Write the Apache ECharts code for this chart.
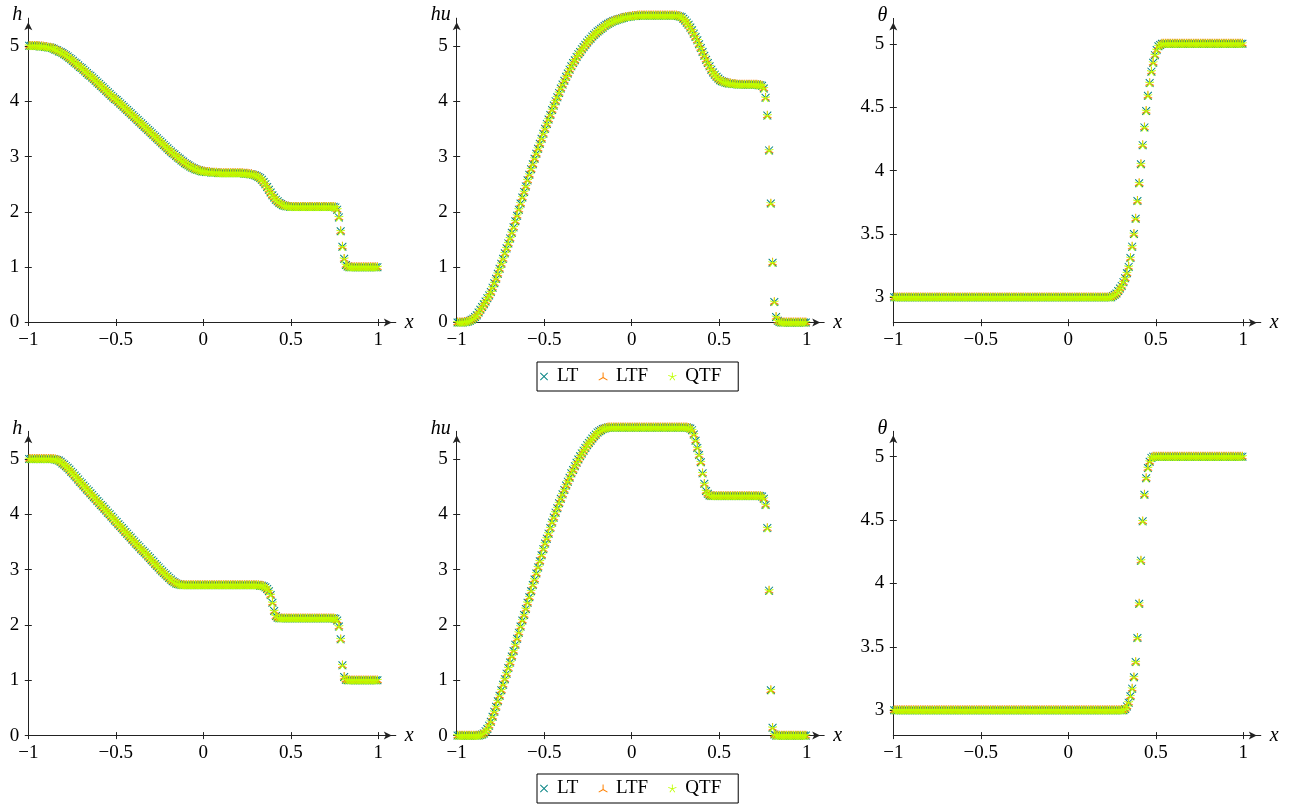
<!DOCTYPE html>
<html>
<head>
<meta charset="utf-8">
<script src="https://cdn.jsdelivr.net/npm/echarts@6/dist/echarts.min.js"></script>
<style>
  html, body { margin: 0; padding: 0; background: #fff; }
  #chart { width: 1291px; height: 806px; }
</style>
</head>
<body>
<div id="chart"></div>
<script>
// cell centres, 200 cells on [-1, 1]
const xCells = [
  -0.995, -0.985, -0.975, -0.965, -0.955, -0.945, -0.935, -0.925, -0.915, -0.905,
  -0.895, -0.885, -0.875, -0.865, -0.855, -0.845, -0.835, -0.825, -0.815, -0.805,
  -0.795, -0.785, -0.775, -0.765, -0.755, -0.745, -0.735, -0.725, -0.715, -0.705,
  -0.695, -0.685, -0.675, -0.665, -0.655, -0.645, -0.635, -0.625, -0.615, -0.605,
  -0.595, -0.585, -0.575, -0.565, -0.555, -0.545, -0.535, -0.525, -0.515, -0.505,
  -0.495, -0.485, -0.475, -0.465, -0.455, -0.445, -0.435, -0.425, -0.415, -0.405,
  -0.395, -0.385, -0.375, -0.365, -0.355, -0.345, -0.335, -0.325, -0.315, -0.305,
  -0.295, -0.285, -0.275, -0.265, -0.255, -0.245, -0.235, -0.225, -0.215, -0.205,
  -0.195, -0.185, -0.175, -0.165, -0.155, -0.145, -0.135, -0.125, -0.115, -0.105,
  -0.095, -0.085, -0.075, -0.065, -0.055, -0.045, -0.035, -0.025, -0.015, -0.005,
  0.005, 0.015, 0.025, 0.035, 0.045, 0.055, 0.065, 0.075, 0.085, 0.095,
  0.105, 0.115, 0.125, 0.135, 0.145, 0.155, 0.165, 0.175, 0.185, 0.195,
  0.205, 0.215, 0.225, 0.235, 0.245, 0.255, 0.265, 0.275, 0.285, 0.295,
  0.305, 0.315, 0.325, 0.335, 0.345, 0.355, 0.365, 0.375, 0.385, 0.395,
  0.405, 0.415, 0.425, 0.435, 0.445, 0.455, 0.465, 0.475, 0.485, 0.495,
  0.505, 0.515, 0.525, 0.535, 0.545, 0.555, 0.565, 0.575, 0.585, 0.595,
  0.605, 0.615, 0.625, 0.635, 0.645, 0.655, 0.665, 0.675, 0.685, 0.695,
  0.705, 0.715, 0.725, 0.735, 0.745, 0.755, 0.765, 0.775, 0.785, 0.795,
  0.805, 0.815, 0.825, 0.835, 0.845, 0.855, 0.865, 0.875, 0.885, 0.895,
  0.905, 0.915, 0.925, 0.935, 0.945, 0.955, 0.965, 0.975, 0.985, 0.995
]

// top row
const hTop = [
  5.00, 5.00, 5.00, 5.00, 5.00, 5.00, 4.99, 4.99, 4.99, 4.98,
  4.98, 4.97, 4.97, 4.96, 4.95, 4.93, 4.92, 4.90, 4.89, 4.87,
  4.85, 4.83, 4.81, 4.78, 4.76, 4.73, 4.70, 4.68, 4.65, 4.62,
  4.60, 4.57, 4.54, 4.51, 4.48, 4.46, 4.43, 4.40, 4.37, 4.34,
  4.31, 4.28, 4.25, 4.22, 4.19, 4.16, 4.13, 4.10, 4.07, 4.04,
  4.02, 3.99, 3.96, 3.93, 3.90, 3.87, 3.84, 3.81, 3.78, 3.75,
  3.72, 3.69, 3.66, 3.63, 3.60, 3.57, 3.54, 3.51, 3.48, 3.45,
  3.42, 3.39, 3.36, 3.33, 3.30, 3.27, 3.24, 3.21, 3.18, 3.15,
  3.12, 3.09, 3.06, 3.04, 3.01, 2.98, 2.96, 2.93, 2.91, 2.88,
  2.86, 2.84, 2.82, 2.80, 2.79, 2.77, 2.76, 2.75, 2.74, 2.73,
  2.73, 2.72, 2.72, 2.72, 2.71, 2.71, 2.71, 2.71, 2.70, 2.70,
  2.70, 2.70, 2.70, 2.70, 2.70, 2.70, 2.70, 2.70, 2.70, 2.70,
  2.70, 2.70, 2.70, 2.69, 2.69, 2.69, 2.68, 2.68, 2.67, 2.66,
  2.65, 2.63, 2.61, 2.58, 2.54, 2.50, 2.45, 2.40, 2.35, 2.30,
  2.26, 2.22, 2.19, 2.16, 2.14, 2.12, 2.11, 2.10, 2.10, 2.09,
  2.09, 2.09, 2.09, 2.09, 2.09, 2.09, 2.09, 2.09, 2.09, 2.09,
  2.09, 2.09, 2.09, 2.09, 2.09, 2.09, 2.09, 2.09, 2.09, 2.09,
  2.09, 2.09, 2.09, 2.09, 2.09, 2.08, 2.04, 1.90, 1.65, 1.37,
  1.15, 1.04, 1.01, 1.00, 1.00, 1.00, 1.00, 1.00, 1.00, 1.00,
  1.00, 1.00, 1.00, 1.00, 1.00, 1.00, 1.00, 1.00, 1.00, 1.00
]
const huTop = [
  0.00, 0.00, 0.00, 0.00, 0.01, 0.01, 0.02, 0.03, 0.05, 0.07,
  0.10, 0.13, 0.18, 0.23, 0.28, 0.33, 0.38, 0.44, 0.49, 0.55,
  0.63, 0.71, 0.79, 0.88, 0.97, 1.06, 1.15, 1.25, 1.34, 1.43,
  1.52, 1.62, 1.72, 1.83, 1.93, 2.04, 2.15, 2.26, 2.36, 2.46,
  2.57, 2.67, 2.77, 2.86, 2.96, 3.05, 3.14, 3.23, 3.32, 3.41,
  3.50, 3.59, 3.67, 3.75, 3.84, 3.92, 4.00, 4.07, 4.15, 4.23,
  4.30, 4.37, 4.44, 4.50, 4.57, 4.63, 4.69, 4.74, 4.80, 4.85,
  4.89, 4.94, 4.98, 5.02, 5.06, 5.10, 5.13, 5.17, 5.20, 5.23,
  5.26, 5.28, 5.31, 5.33, 5.36, 5.38, 5.40, 5.42, 5.43, 5.45,
  5.46, 5.47, 5.48, 5.49, 5.50, 5.51, 5.52, 5.52, 5.53, 5.53,
  5.54, 5.54, 5.54, 5.55, 5.55, 5.55, 5.55, 5.55, 5.55, 5.55,
  5.55, 5.55, 5.55, 5.55, 5.55, 5.55, 5.55, 5.55, 5.55, 5.55,
  5.55, 5.55, 5.55, 5.55, 5.55, 5.55, 5.54, 5.53, 5.52, 5.49,
  5.46, 5.42, 5.38, 5.33, 5.28, 5.22, 5.16, 5.10, 5.03, 4.96,
  4.89, 4.82, 4.75, 4.69, 4.63, 4.57, 4.52, 4.48, 4.44, 4.41,
  4.38, 4.36, 4.35, 4.34, 4.33, 4.32, 4.32, 4.31, 4.31, 4.31,
  4.30, 4.30, 4.30, 4.30, 4.30, 4.30, 4.30, 4.30, 4.30, 4.30,
  4.30, 4.30, 4.29, 4.29, 4.28, 4.23, 4.06, 3.74, 3.11, 2.15,
  1.08, 0.37, 0.10, 0.03, 0.01, 0.00, 0.00, 0.00, 0.00, 0.00,
  0.00, 0.00, 0.00, 0.00, 0.00, 0.00, 0.00, 0.00, 0.00, 0.00
]
const thetaTop = [
  3, 3, 3, 3, 3, 3, 3, 3, 3, 3,
  3, 3, 3, 3, 3, 3, 3, 3, 3, 3,
  3, 3, 3, 3, 3, 3, 3, 3, 3, 3,
  3, 3, 3, 3, 3, 3, 3, 3, 3, 3,
  3, 3, 3, 3, 3, 3, 3, 3, 3, 3,
  3, 3, 3, 3, 3, 3, 3, 3, 3, 3,
  3, 3, 3, 3, 3, 3, 3, 3, 3, 3,
  3, 3, 3, 3, 3, 3, 3, 3, 3, 3,
  3, 3, 3, 3, 3, 3, 3, 3, 3, 3,
  3, 3, 3, 3, 3, 3, 3, 3, 3, 3,
  3, 3, 3, 3, 3, 3, 3, 3, 3, 3,
  3, 3, 3, 3, 3, 3, 3, 3, 3, 3,
  3.00, 3.00, 3.00, 3.00, 3.00, 3.01, 3.02, 3.03, 3.05, 3.07,
  3.09, 3.12, 3.15, 3.19, 3.24, 3.31, 3.40, 3.50, 3.62, 3.76,
  3.90, 4.05, 4.20, 4.34, 4.47, 4.59, 4.69, 4.78, 4.85, 4.91,
  4.95, 4.98, 4.99, 5.00, 5.00, 5.00, 5.00, 5.00, 5.00, 5.00,
  5, 5, 5, 5, 5, 5, 5, 5, 5, 5,
  5, 5, 5, 5, 5, 5, 5, 5, 5, 5,
  5, 5, 5, 5, 5, 5, 5, 5, 5, 5,
  5, 5, 5, 5, 5, 5, 5, 5, 5, 5
]

// bottom row
const hBot = [
  5.00, 5.00, 5.00, 5.00, 5.00, 5.00, 5.00, 5.00, 5.00, 5.00,
  5.00, 5.00, 5.00, 5.00, 5.00, 4.99, 4.98, 4.97, 4.95, 4.92,
  4.90, 4.87, 4.84, 4.81, 4.77, 4.74, 4.70, 4.67, 4.63, 4.59,
  4.56, 4.52, 4.49, 4.45, 4.42, 4.38, 4.35, 4.31, 4.28, 4.24,
  4.21, 4.17, 4.14, 4.10, 4.07, 4.03, 4.00, 3.96, 3.93, 3.89,
  3.86, 3.82, 3.79, 3.75, 3.72, 3.68, 3.65, 3.61, 3.58, 3.54,
  3.51, 3.47, 3.44, 3.41, 3.37, 3.34, 3.31, 3.28, 3.24, 3.21,
  3.17, 3.14, 3.10, 3.07, 3.04, 3.00, 2.97, 2.94, 2.91, 2.88,
  2.85, 2.82, 2.79, 2.77, 2.75, 2.74, 2.73, 2.72, 2.72, 2.72,
  2.72, 2.72, 2.72, 2.72, 2.72, 2.72, 2.72, 2.72, 2.72, 2.72,
  2.72, 2.72, 2.72, 2.72, 2.72, 2.72, 2.72, 2.72, 2.72, 2.72,
  2.72, 2.72, 2.72, 2.72, 2.72, 2.72, 2.72, 2.72, 2.72, 2.72,
  2.72, 2.72, 2.72, 2.72, 2.72, 2.72, 2.72, 2.72, 2.72, 2.72,
  2.72, 2.72, 2.71, 2.71, 2.70, 2.68, 2.65, 2.61, 2.54, 2.40,
  2.25, 2.16, 2.13, 2.12, 2.12, 2.12, 2.12, 2.12, 2.12, 2.12,
  2.12, 2.12, 2.12, 2.12, 2.12, 2.12, 2.12, 2.12, 2.12, 2.12,
  2.12, 2.12, 2.12, 2.12, 2.12, 2.12, 2.12, 2.12, 2.12, 2.12,
  2.12, 2.12, 2.12, 2.12, 2.12, 2.11, 2.08, 1.97, 1.74, 1.27,
  1.06, 1.01, 1.00, 1.00, 1.00, 1.00, 1.00, 1.00, 1.00, 1.00,
  1.00, 1.00, 1.00, 1.00, 1.00, 1.00, 1.00, 1.00, 1.00, 1.00
]
const huBot = [
  0.00, 0.00, 0.00, 0.00, 0.00, 0.00, 0.00, 0.00, 0.00, 0.00,
  0.00, 0.00, 0.00, 0.01, 0.02, 0.04, 0.08, 0.12, 0.18, 0.25,
  0.34, 0.43, 0.52, 0.62, 0.72, 0.82, 0.92, 1.02, 1.12, 1.22,
  1.32, 1.43, 1.53, 1.64, 1.75, 1.86, 1.97, 2.08, 2.18, 2.29,
  2.40, 2.50, 2.61, 2.72, 2.82, 2.93, 3.04, 3.15, 3.26, 3.37,
  3.47, 3.56, 3.65, 3.75, 3.85, 3.94, 4.03, 4.11, 4.20, 4.28,
  4.36, 4.44, 4.52, 4.59, 4.66, 4.74, 4.80, 4.87, 4.93, 4.99,
  5.05, 5.10, 5.15, 5.20, 5.25, 5.29, 5.33, 5.37, 5.41, 5.44,
  5.48, 5.50, 5.52, 5.54, 5.55, 5.56, 5.57, 5.57, 5.57, 5.57,
  5.57, 5.57, 5.57, 5.57, 5.57, 5.57, 5.57, 5.57, 5.57, 5.57,
  5.57, 5.57, 5.57, 5.57, 5.57, 5.57, 5.57, 5.57, 5.57, 5.57,
  5.57, 5.57, 5.57, 5.57, 5.57, 5.57, 5.57, 5.57, 5.57, 5.57,
  5.57, 5.57, 5.57, 5.57, 5.57, 5.57, 5.57, 5.57, 5.57, 5.57,
  5.57, 5.57, 5.56, 5.55, 5.52, 5.44, 5.33, 5.20, 5.07, 4.94,
  4.74, 4.55, 4.42, 4.37, 4.34, 4.33, 4.33, 4.33, 4.33, 4.33,
  4.33, 4.33, 4.33, 4.33, 4.33, 4.33, 4.33, 4.33, 4.33, 4.33,
  4.33, 4.33, 4.33, 4.33, 4.33, 4.33, 4.33, 4.33, 4.33, 4.33,
  4.33, 4.33, 4.33, 4.33, 4.32, 4.28, 4.17, 3.75, 2.62, 0.82,
  0.14, 0.02, 0.00, 0.00, 0.00, 0.00, 0.00, 0.00, 0.00, 0.00,
  0.00, 0.00, 0.00, 0.00, 0.00, 0.00, 0.00, 0.00, 0.00, 0.00
]
const thetaBot = [
  3, 3, 3, 3, 3, 3, 3, 3, 3, 3,
  3, 3, 3, 3, 3, 3, 3, 3, 3, 3,
  3, 3, 3, 3, 3, 3, 3, 3, 3, 3,
  3, 3, 3, 3, 3, 3, 3, 3, 3, 3,
  3, 3, 3, 3, 3, 3, 3, 3, 3, 3,
  3, 3, 3, 3, 3, 3, 3, 3, 3, 3,
  3, 3, 3, 3, 3, 3, 3, 3, 3, 3,
  3, 3, 3, 3, 3, 3, 3, 3, 3, 3,
  3, 3, 3, 3, 3, 3, 3, 3, 3, 3,
  3, 3, 3, 3, 3, 3, 3, 3, 3, 3,
  3, 3, 3, 3, 3, 3, 3, 3, 3, 3,
  3, 3, 3, 3, 3, 3, 3, 3, 3, 3,
  3, 3, 3, 3, 3, 3, 3, 3, 3, 3,
  3.00, 3.00, 3.01, 3.03, 3.06, 3.11, 3.17, 3.26, 3.38, 3.57,
  3.84, 4.18, 4.49, 4.70, 4.83, 4.91, 4.96, 4.99, 5.00, 5.00,
  5, 5, 5, 5, 5, 5, 5, 5, 5, 5,
  5, 5, 5, 5, 5, 5, 5, 5, 5, 5,
  5, 5, 5, 5, 5, 5, 5, 5, 5, 5,
  5, 5, 5, 5, 5, 5, 5, 5, 5, 5,
  5, 5, 5, 5, 5, 5, 5, 5, 5, 5
]

const seriesNames = ['LT', 'LTF', 'QTF']
const xTicks = [-1, -0.5, 0, 0.5, 1]
const hTicks = [0, 1, 2, 3, 4, 5]
const thetaTicks = [3, 3.5, 4, 4.5, 5]

// pgfplots marks: x, Mercedes star flipped, star
const marks = [
    { symbol: 'path://M0 8L8 0L100 92L92 100ZM92 0L100 8L8 100L0 92Z', size: 8.5, offset: [0, 0], color: '#008080' },
    { symbol: 'path://M45 0L55 0L55 50L45 50ZM47.5 45.67L52.5 54.33L9.2 79.33L4.2 70.67ZM95.8 70.67L90.8 79.33L47.5 54.33L52.5 45.67Z', size: 9, offset: [0, -1], color: '#ff8000' },
    { symbol: 'path://M55 50L45 50L45 0L55 0ZM51.55 54.76L48.45 45.24L96 29.8L99.1 39.3ZM45.96 52.94L54.05 47.06L83.45 87.51L75.36 93.39ZM45.96 47.06L54.05 52.94L24.65 93.39L16.56 87.51ZM51.55 45.24L48.45 54.76L0.9 39.3L4 29.8Z', size: 9, offset: [0, 0], color: '#bfff00' },
]

const font = 'Liberation Serif'
const minus = v => (v < 0 ? '\u2212' + Math.abs(v) : String(v))

const panels = [
    { values: hTop, name: 'h', left: 28.3, top: 18.2, yMin: 0, yMax: 5.5, ticks: hTicks },
    { values: huTop, name: 'hu', left: 456.7, top: 18.2, yMin: 0, yMax: 5.5, ticks: hTicks },
    { values: thetaTop, name: '\u03b8', left: 893.3, top: 18.4, yMin: 2.8, yMax: 5.2, ticks: thetaTicks },
    { values: hBot, name: 'h', left: 28.3, top: 431.3, yMin: 0, yMax: 5.5, ticks: hTicks },
    { values: huBot, name: 'hu', left: 456.7, top: 431.3, yMin: 0, yMax: 5.5, ticks: hTicks },
    { values: thetaBot, name: '\u03b8', left: 893.3, top: 431.3, yMin: 2.8, yMax: 5.2, ticks: thetaTicks },
]

const lineStyle = { color: '#222', width: 1 }
const labelStyle = { color: '#000', fontFamily: font, fontSize: 19 }

const grid = []
const xAxis = []
const yAxis = []
const series = []

panels.forEach((p, k) => {
    grid.push({ left: p.left, top: p.top, width: 367.5, height: 304.3, containLabel: false, outerBoundsMode: 'none' })

    // main axes: line, outer ticks, labels, names
    xAxis.push({
        type: 'value', gridIndex: k, position: 'bottom', min: -1, max: 1.1,
        axisLine: { onZero: false, lineStyle, symbol: ['none', 'arrow'], symbolSize: [6, 8], symbolOffset: [0, -4] },
        axisTick: { customValues: xTicks, length: 3.5, lineStyle },
        axisLabel: { customValues: xTicks, formatter: minus, margin: 8, ...labelStyle },
        splitLine: { show: false },
        name: 'x', nameLocation: 'end', nameGap: 9,
        nameTextStyle: { fontStyle: 'italic', color: '#000', fontFamily: font, fontSize: 20 },
    })
    yAxis.push({
        type: 'value', gridIndex: k, position: 'left', min: p.yMin, max: p.yMax,
        axisLine: { onZero: false, lineStyle, symbol: ['none', 'arrow'], symbolSize: [6, 8], symbolOffset: [0, -4] },
        axisTick: { customValues: p.ticks, length: 3.5, lineStyle },
        axisLabel: { customValues: p.ticks, margin: 9, ...labelStyle },
        splitLine: { show: false },
        name: p.name, nameLocation: 'end', nameGap: 3,
        nameTextStyle: { fontStyle: 'italic', color: '#000', fontFamily: font, fontSize: 20, align: 'right', verticalAlign: 'middle', padding: [0, 6, 0, 0] },
    })
    // second pair, only for the inner half of the ticks
    xAxis.push({
        type: 'value', gridIndex: k, position: 'bottom', min: -1, max: 1.1,
        axisLine: { show: false, onZero: false },
        axisTick: { inside: true, customValues: xTicks, length: 3.5, lineStyle },
        axisLabel: { show: false },
        splitLine: { show: false },
    })
    yAxis.push({
        type: 'value', gridIndex: k, position: 'left', min: p.yMin, max: p.yMax,
        axisLine: { show: false, onZero: false },
        axisTick: { inside: true, customValues: p.ticks, length: 3.5, lineStyle },
        axisLabel: { show: false },
        splitLine: { show: false },
    })

    seriesNames.forEach((name, s) => {
        const m = marks[s]
        series.push({
            type: 'scatter',
            name,
            xAxisIndex: 2 * k,
            yAxisIndex: 2 * k,
            data: xCells.map((x, i) => [x, p.values[i]]),
            symbol: m.symbol,
            symbolSize: m.size,
            symbolKeepAspect: true,
            symbolOffset: m.offset,
            itemStyle: { color: m.color, opacity: 1 },
            clip: false,
            silent: true,
        })
    })
})

const legendBase = {
    data: seriesNames,
    left: 537,
    orient: 'horizontal',
    backgroundColor: '#fff',
    borderColor: '#000',
    borderWidth: 1,
    borderRadius: 0,
    padding: [5, 17, 5, 3],
    itemGap: 20,
    itemWidth: 16,
    itemHeight: 8,
    textStyle: { color: '#000', fontFamily: font, fontSize: 19 },
    selectedMode: false,
}

const chart = echarts.init(document.getElementById('chart'))
chart.setOption({
    animation: false,
    backgroundColor: '#fff',
    grid,
    xAxis,
    yAxis,
    legend: [
        { ...legendBase, top: 362 },
        { ...legendBase, top: 774 },
    ],
    series,
})
</script>
</body>
</html>
